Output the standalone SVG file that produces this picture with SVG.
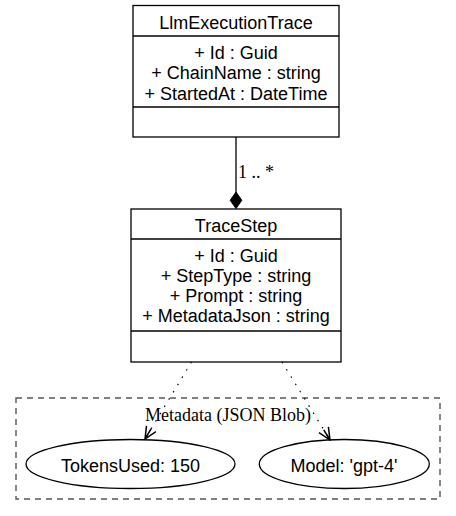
<svg xmlns="http://www.w3.org/2000/svg" width="456" height="516" viewBox="0 0 456 516">
<defs>
<style>
.box{fill:#fff;stroke:#000;stroke-width:1.3}
.div{stroke:#000;stroke-width:1.3}
.t{font-family:"Liberation Sans",Arial,sans-serif;font-size:18px;fill:#000;text-anchor:middle}
.s{font-family:"Liberation Serif","Times New Roman",serif;font-size:18px;fill:#000}
.dot{fill:none;stroke:#000;stroke-width:1.2;stroke-dasharray:1.5,7}
.ell{fill:#fff;stroke:#000;stroke-width:1.3}
</style>
<marker id="vee" viewBox="0 0 14 14" refX="13" refY="7" markerWidth="14" markerHeight="14" markerUnits="userSpaceOnUse" orient="auto">
<path d="M1,1.5 L13,7 L1,12.5 M1,7 L13,7" fill="none" stroke="#000" stroke-width="1.5"/>
</marker>
</defs>
<rect width="456" height="516" fill="#fff"/>

<g id="cluster-metadata">
<rect x="16" y="398" width="424" height="101" fill="none" stroke="#555" stroke-width="1.4" stroke-dasharray="6,5"/>
<text class="s" x="228" y="421" text-anchor="middle">Metadata (JSON Blob)</text>
</g>

<g id="LlmExecutionTrace">
<rect class="box" x="133" y="5.5" width="206" height="131.5"/>
<line class="div" x1="133" y1="36" x2="339" y2="36"/>
<line class="div" x1="133" y1="107" x2="339" y2="107"/>
<text class="t" x="236" y="28.5">LlmExecutionTrace</text>
<text class="t" x="236" y="58.5">+ Id : Guid</text>
<text class="t" x="236" y="79">+ ChainName : string</text>
<text class="t" x="236" y="99.5">+ StartedAt : DateTime</text>
</g>

<g id="TraceStep">
<rect class="box" x="131" y="209" width="210" height="153"/>
<line class="div" x1="131" y1="239" x2="341" y2="239"/>
<line class="div" x1="131" y1="331" x2="341" y2="331"/>
<text class="t" x="236" y="232">TraceStep</text>
<text class="t" x="236" y="262">+ Id : Guid</text>
<text class="t" x="236" y="282">+ StepType : string</text>
<text class="t" x="236" y="302">+ Prompt : string</text>
<text class="t" x="236" y="322">+ MetadataJson : string</text>
</g>

<g id="TokensUsed">
<ellipse class="ell" cx="130.5" cy="464" rx="104.5" ry="24.5"/>
<text class="t" x="130.5" y="471.5">TokensUsed: 150</text>
</g>

<g id="Model">
<ellipse class="ell" cx="344.3" cy="464" rx="85" ry="24.5"/>
<text class="t" x="344" y="471.5">Model: 'gpt-4'</text>
</g>

<g id="connectors">
<line x1="236" y1="137" x2="236" y2="193" stroke="#000" stroke-width="1.3"/>
<polygon points="236,192 241.8,200.3 236,208.6 230.2,200.3" fill="#000" stroke="#000" stroke-width="1"/>
<text class="s" x="238" y="178">1 .. *</text>
<line class="dot" x1="191.5" y1="362" x2="145" y2="439" marker-end="url(#vee)"/>
<line class="dot" x1="282" y1="362" x2="330" y2="440" marker-end="url(#vee)"/>
</g>
</svg>
